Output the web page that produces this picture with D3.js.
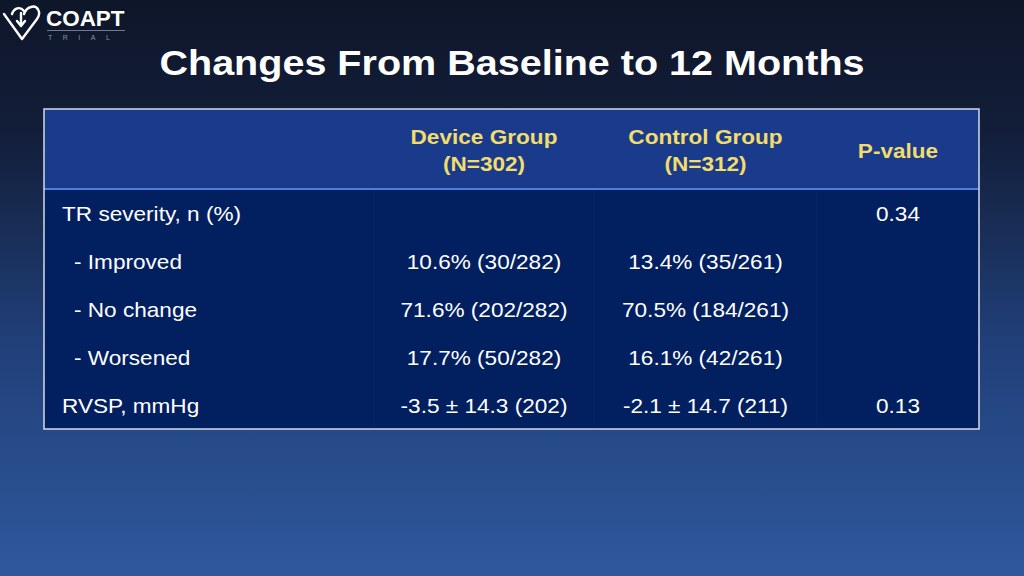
<!DOCTYPE html>
<html>
<head>
<meta charset="utf-8">
<script src="https://cdn.jsdelivr.net/npm/d3@7/dist/d3.min.js"></script>
<style>
  html, body { margin: 0; padding: 0; background: #0e1629; }
  svg { display: block; font-family: "Liberation Sans", Arial, sans-serif; }
</style>
</head>
<body>
<div id="chart"></div>
<script>
// table content
var title = "Changes From Baseline to 12 Months";
var colHeaders = [["Device Group", "(N=302)"], ["Control Group", "(N=312)"], ["P-value"]];
var rowLabels = ["TR severity, n (%)", " - Improved", " - No change", " - Worsened", "RVSP, mmHg"];
var deviceVals = ["", "10.6% (30/282)", "71.6% (202/282)", "17.7% (50/282)", "-3.5 \u00b1 14.3 (202)"];
var controlVals = ["", "13.4% (35/261)", "70.5% (184/261)", "16.1% (42/261)", "-2.1 \u00b1 14.7 (211)"];
var pValues = ["0.34", "", "", "", "0.13"];

var width = 1024, height = 576;
var sx = 1.13; // slide text is a bit stretched horizontally

var svg = d3.select("#chart").append("svg")
  .attr("width", width)
  .attr("height", height);

function stretch(x, y) {
  return "translate(" + x + "," + y + ") scale(" + sx + ",1)";
}

// background gradient
var defs = svg.append("defs");
var bg = defs.append("linearGradient").attr("id", "bg")
  .attr("x1", 0).attr("y1", 0).attr("x2", 0).attr("y2", 1);
bg.append("stop").attr("offset", 0).attr("stop-color", "#0e1629");
bg.append("stop").attr("offset", 0.22).attr("stop-color", "#121d38");
bg.append("stop").attr("offset", 0.6).attr("stop-color", "#21407a");
bg.append("stop").attr("offset", 1).attr("stop-color", "#2f589c");
svg.append("rect").attr("width", width).attr("height", height).attr("fill", "url(#bg)");

// logo
var logo = svg.append("g").attr("fill", "none").attr("stroke", "#fff")
  .attr("stroke-width", 2.4).attr("stroke-linecap", "round").attr("stroke-linejoin", "round");
logo.append("path").attr("d", "M4,14 L22,39 L37,19 C42,12 37,5 31,7 C27,8 25,11 24,14");
logo.append("path").attr("d", "M12,14 C14,8 20,6 24,11");
logo.append("path").attr("d", "M21,13 L21,25 M17,21 L21,26 L25,21");
svg.append("text").attr("transform", "translate(46,26) scale(1.02,1)")
  .attr("fill", "#fff").attr("font-weight", "bold").attr("font-size", 22)
  .text("COAPT");
svg.append("line").attr("x1", 47).attr("x2", 125).attr("y1", 30.5).attr("y2", 30.5)
  .attr("stroke", "#8a93a6").attr("stroke-width", 0.8);
svg.append("text").attr("x", 48).attr("y", 40)
  .attr("fill", "#8a93a6").attr("font-size", 7).attr("letter-spacing", 10.5)
  .text("TRIAL");

// title
svg.append("text")
  .attr("transform", stretch(512, 75))
  .attr("text-anchor", "middle")
  .attr("fill", "#fff").attr("font-weight", "bold").attr("font-size", 35)
  .text(title);

// layout
var tableLeft = 44, tableRight = 979, headTop = 109, headBottom = 189;
var colEdges = [tableLeft, 374, 594, 817, tableRight];

var y = d3.scaleBand()
  .domain(d3.range(rowLabels.length))
  .range([headBottom, headBottom + 48 * rowLabels.length]);

var colCenter = d3.scaleOrdinal()
  .domain([1, 2, 3])
  .range([1, 2, 3].map(function (i) { return (colEdges[i] + colEdges[i + 1]) / 2; }));

var tableBottom = y.range()[1];

// fills
svg.append("rect")
  .attr("x", tableLeft).attr("y", headTop)
  .attr("width", tableRight - tableLeft).attr("height", headBottom - headTop)
  .attr("fill", "#1a3b8b");
svg.append("rect")
  .attr("x", tableLeft).attr("y", headBottom)
  .attr("width", tableRight - tableLeft).attr("height", tableBottom - headBottom)
  .attr("fill", "#021f5f");

// faint column dividers
svg.selectAll(".divider")
  .data(colEdges.slice(1, 4))
  .enter().append("line")
  .attr("class", "divider")
  .attr("x1", function (d) { return d; }).attr("x2", function (d) { return d; })
  .attr("y1", headTop + 2).attr("y2", tableBottom - 1)
  .attr("stroke", "#1d3f86").attr("stroke-width", 1).attr("opacity", 0.3);

// header separator
svg.append("line")
  .attr("x1", tableLeft).attr("x2", tableRight)
  .attr("y1", headBottom).attr("y2", headBottom)
  .attr("stroke", "#4b7fdc").attr("stroke-width", 2);

// outer border
svg.append("rect")
  .attr("x", tableLeft).attr("y", headTop)
  .attr("width", tableRight - tableLeft).attr("height", tableBottom - headTop)
  .attr("fill", "none").attr("stroke", "#d3dae8").attr("stroke-width", 1.5);

// header text
var head = svg.selectAll(".head")
  .data(colHeaders)
  .enter().append("text")
  .attr("class", "head")
  .attr("text-anchor", "middle")
  .attr("fill", "#f2dc6c").attr("font-weight", "bold").attr("font-size", 20)
  .attr("transform", function (d, i) { return stretch(colCenter(i + 1), d.length > 1 ? 144 : 158); });
head.selectAll("tspan")
  .data(function (d) { return d; })
  .enter().append("tspan")
  .attr("x", 0)
  .attr("dy", function (d, i) { return i === 0 ? 0 : 27; })
  .text(function (d) { return d; });

// body rows
var rows = svg.selectAll(".row")
  .data(rowLabels)
  .enter().append("g")
  .attr("class", "row")
  .attr("transform", function (d, i) { return "translate(0," + (y(i) + y.bandwidth() / 2 + 8) + ")"; })
  .attr("fill", "#fff").attr("font-size", 20);

rows.append("text")
  .attr("transform", function (d) { return stretch(d.charAt(0) === " " ? 74 : 62, 0); })
  .text(function (d) { return d.trim(); });

[deviceVals, controlVals, pValues].forEach(function (vals, c) {
  rows.append("text")
    .attr("transform", stretch(colCenter(c + 1), 0))
    .attr("text-anchor", "middle")
    .text(function (d, i) { return vals[i]; });
});
</script>
</body>
</html>
